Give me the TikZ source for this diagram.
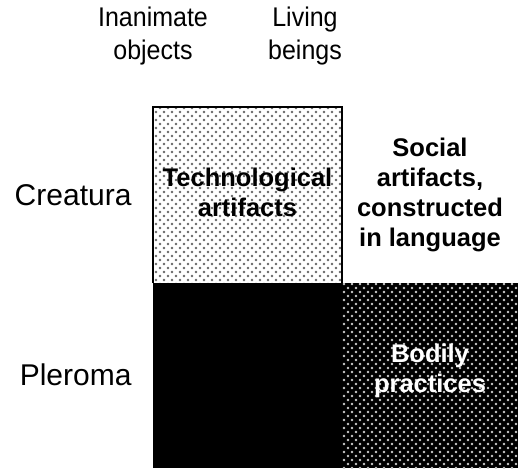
\documentclass[tikz,border=0pt]{standalone}
\usepackage{fontspec}
\setmainfont{Liberation Sans}
\usetikzlibrary{patterns.meta}

\begin{document}
\begin{tikzpicture}[x=1pt, y=-1pt,
    headlabel/.style={font=\fontsize{25}{30}\selectfont, align=center, yscale=1.08},
    rowlabel/.style={font=\fontsize{30}{32}\selectfont, anchor=east},
    celltext/.style={font=\fontsize{25.5}{30}\selectfont\bfseries, align=center},
    lightdots/.style={pattern={Dots[distance=8pt, radius=1.3pt, xshift=#1, yshift=#1]}, pattern color=black!60},
    darkdots/.style={pattern={Dots[distance=8pt, radius=1.3pt, xshift=#1, yshift=#1]}, pattern color=white!80!black}]

    \def\Xl{153}
    \def\Xm{342}
    \def\Xr{518}
    \def\Yt{107}
    \def\Ym{283}
    \def\Yb{468}

    \useasboundingbox (0,0) rectangle (518,468);

    % cells
    \fill[white] (\Xl,\Yt) rectangle (\Xm,\Ym);
    \fill[lightdots=0pt] (\Xl,\Yt) rectangle (\Xm,\Ym);
    \fill[lightdots=4pt] (\Xl,\Yt) rectangle (\Xm,\Ym);
    \fill[black] (\Xl,\Ym) rectangle (\Xm,\Yb);
    \fill[black] (\Xm,\Ym) rectangle (\Xr,\Yb);
    \fill[darkdots=0pt] (\Xm,\Ym) rectangle (\Xr,\Yb);
    \fill[darkdots=4pt] (\Xm,\Ym) rectangle (\Xr,\Yb);
    \draw[line width=1.5pt] (\Xl,\Ym) -- (\Xl,\Yt) -- (\Xm,\Yt) -- (\Xm,\Ym);

    % headings
    \node[headlabel] (inanimate) at (153,36) {Inanimate\\objects};
    \node[headlabel] (living) at (305,36) {Living\\beings};
    \node[rowlabel] (creatura) at (135,195) {Creatura};
    \node[rowlabel] (pleroma) at (135,375) {Pleroma};

    % cell texts
    \node[celltext] (techno) at (247.5,192) {Technological\\artifacts};
    \node[celltext] (social) at (430,195) {Social\\artifacts,\\constructed\\in language};
    \node[celltext, white] (bodily) at (430,371) {Bodily\\practices};

\end{tikzpicture}
\end{document}
